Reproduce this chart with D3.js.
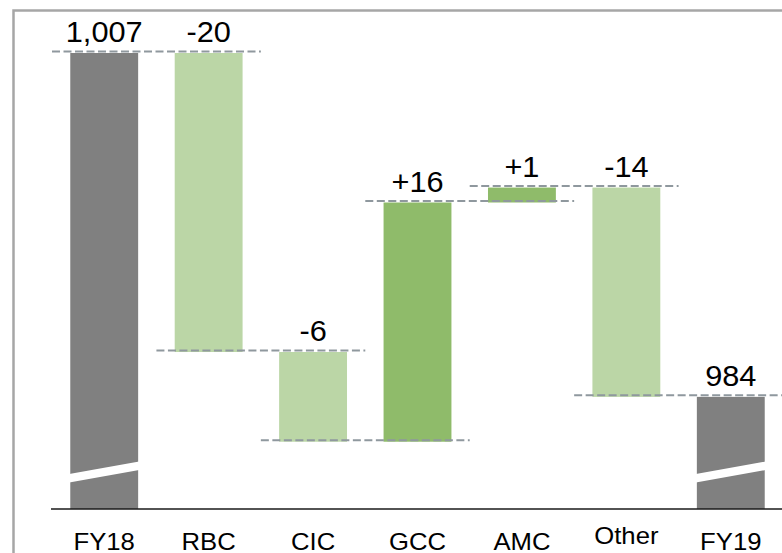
<!DOCTYPE html>
<html>
<head>
<meta charset="utf-8">
<script src="https://cdn.jsdelivr.net/npm/d3@7"></script>
<style>
  html, body { margin: 0; padding: 0; background: #fff; }
  svg { display: block; }
  text { font-family: "Liberation Sans", Arial, sans-serif; fill: #000; }
</style>
</head>
<body>
<svg id="chart" width="782" height="553"></svg>
<script>
// Bridge of FY18 to FY19, by business line
const categories = ["FY18", "RBC", "CIC", "GCC", "AMC", "Other", "FY19"];
const values     = [1007, -20, -6, 16, 1, -14, 984];
const kinds      = ["total", "delta", "delta", "delta", "delta", "delta", "total"];

const W = 782, H = 553;
const baseY = 509;          // broken value axis baseline
const axisFloor = 976.5;    // value that sits on the baseline

const colors = { total: "#808080", down: "#bbd6a6", up: "#8fbb6a" };

const svg = d3.select("#chart");

// Running totals: each step starts where the previous ended
let running = 0;
const steps = categories.map((c, i) => {
  let start, end;
  if (kinds[i] === "total") { start = axisFloor; end = values[i]; running = values[i]; }
  else { start = running; end = running + values[i]; running = end; }
  return { cat: c, value: values[i], kind: kinds[i], start, end };
});

const x = d3.scaleBand().domain(categories).range([52, 783])
  .paddingInner(0.35).paddingOuter(0.175);
const y = d3.scaleLinear().domain([axisFloor, 1007]).range([baseY, 53]);

const bw = x.bandwidth();
const gap = x.step() - bw;

// Frame
svg.append("rect")
  .attr("x", 13.5).attr("y", 10.5)
  .attr("width", W + 20).attr("height", H + 20)
  .attr("fill", "none").attr("stroke", "#a6a6a6").attr("stroke-width", 2.5);

// Bars
svg.append("g").selectAll("rect").data(steps).join("rect")
  .attr("x", d => x(d.cat))
  .attr("width", bw)
  .attr("y", d => y(Math.max(d.start, d.end)))
  .attr("height", d => Math.abs(y(d.start) - y(d.end)))
  .attr("fill", d => d.kind === "total" ? colors.total : (d.value < 0 ? colors.down : colors.up));

// Axis break marks on the total bars
svg.append("g").selectAll("path").data(steps.filter(d => d.kind === "total")).join("path")
  .attr("d", d => {
    const x0 = x(d.cat) - 1, x1 = x(d.cat) + bw + 1;
    return `M${x0},${baseY - 35}L${x1},${baseY - 47.5}L${x1},${baseY - 39}L${x0},${baseY - 26.5}Z`;
  })
  .attr("fill", "#fff");

// Dashed connectors between consecutive steps
const links = steps.slice(0, -1).map((d, i) => ({ a: d, b: steps[i + 1], level: d.end }));
svg.append("g").selectAll("line").data(links).join("line")
  .attr("x1", d => x(d.a.cat) - gap / 2)
  .attr("x2", d => x(d.b.cat) + bw + gap / 2)
  .attr("y1", d => y(d.level) - 1.5)
  .attr("y2", d => y(d.level) - 1.5)
  .attr("stroke", "#8f989e").attr("stroke-width", 2)
  .attr("stroke-dasharray", "8,3.5");

// Baseline
svg.append("line")
  .attr("x1", 51).attr("x2", W).attr("y1", baseY).attr("y2", baseY)
  .attr("stroke", "#1a1a1a").attr("stroke-width", 1.5);

// Value labels (plain hyphen for negatives)
const locale = d3.formatLocale({ decimal: ".", thousands: ",", grouping: [3], currency: ["", ""], minus: "-" });
const fmtTotal = locale.format(",");
const fmtDelta = locale.format("+");
svg.append("g").selectAll("text").data(steps).join("text")
  .attr("transform", d => `translate(${x(d.cat) + bw / 2},${y(Math.max(d.start, d.end)) - 11}) scale(1.06,1)`)
  .attr("text-anchor", "middle")
  .attr("font-size", 29)
  .text(d => d.kind === "total" ? fmtTotal(d.value) : fmtDelta(d.value));

// Category labels
svg.append("g").selectAll("text").data(categories).join("text")
  .attr("transform", c => `translate(${x(c) + bw / 2},${c === "Other" ? 544 : 549.5}) scale(1.07,1)`)
  .attr("text-anchor", "middle")
  .attr("font-size", 24)
  .text(c => c);
</script>
</body>
</html>
